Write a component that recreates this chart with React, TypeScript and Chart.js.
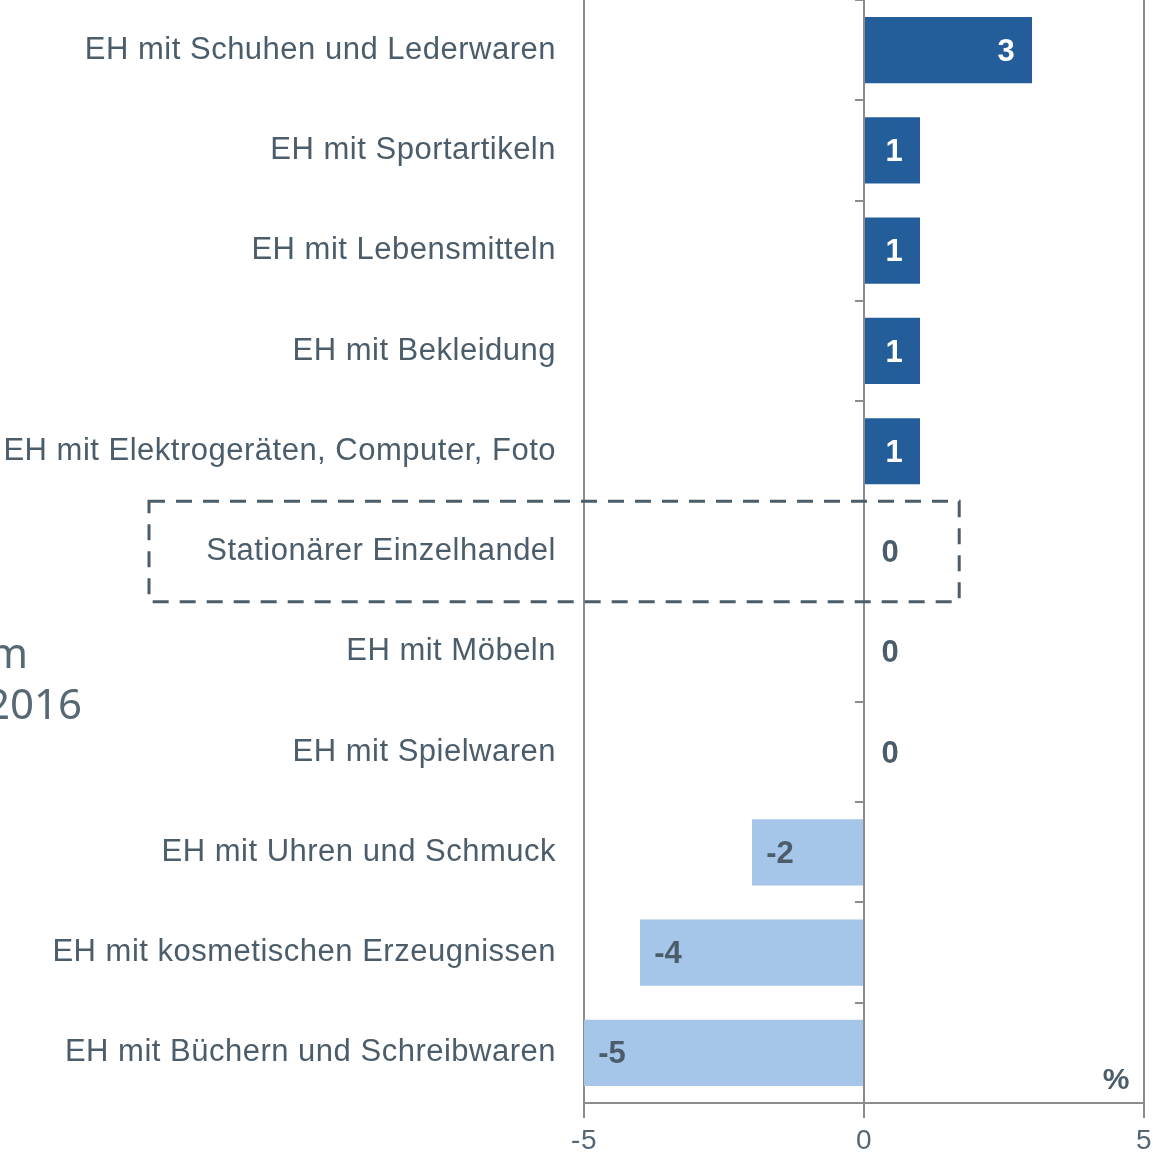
import React, { useEffect, useRef } from "react";
import { Chart, registerables } from "chart.js";

Chart.register(...registerables);

const categories = [
  "EH mit Schuhen und Lederwaren",
  "EH mit Sportartikeln",
  "EH mit Lebensmitteln",
  "EH mit Bekleidung",
  "EH mit Elektrogeräten, Computer, Foto",
  "Stationärer Einzelhandel",
  "EH mit Möbeln",
  "EH mit Spielwaren",
  "EH mit Uhren und Schmuck",
  "EH mit kosmetischen Erzeugnissen",
  "EH mit Büchern und Schreibwaren",
];
const values = [3, 1, 1, 1, 1, 0, 0, 0, -2, -4, -5];
const xTicks = [-5, 0, 5];
const highlightIndex = 5;
const highlightRightValue = 1.7;
const unitLabel = "%";
const titleFragments = ["m", "2016"];

const DARK_BLUE = "#245E9A";
const LIGHT_BLUE = "#A5C5E9";
const TEXT = "#4B5D6A";
const GRAY = "#8C8C8C";
const FONT = "'Liberation Sans', Arial, sans-serif";

export default function App() {
  const ref = useRef<HTMLCanvasElement | null>(null);

  useEffect(() => {
    document.body.style.margin = "0";
    const canvas = ref.current;
    if (!canvas) return;

    const decorations = {
      id: "decorations",
      beforeDraw(chart: any) {
        (chart.ctx as any).letterSpacing = "0.5px";
      },
      beforeDatasetsDraw(chart: any) {
        const { ctx, chartArea, scales } = chart;
        const x0 = scales.x.getPixelForValue(0);
        const n = categories.length;
        const step = (chartArea.bottom - chartArea.top) / n;
        ctx.save();
        ctx.strokeStyle = GRAY;
        ctx.lineWidth = 2;
        for (let i = 0; i <= n; i++) {
          const y = Math.round(chartArea.top + i * step);
          ctx.beginPath();
          ctx.moveTo(x0 - 9, y);
          ctx.lineTo(x0, y);
          ctx.stroke();
        }
        ctx.restore();
      },
      afterDatasetsDraw(chart: any) {
        const { ctx, chartArea, scales } = chart;
        const meta = chart.getDatasetMeta(0);
        ctx.save();
        (ctx as any).letterSpacing = "0px";
        ctx.font = `bold 31px ${FONT}`;
        ctx.textAlign = "center";
        ctx.textBaseline = "middle";
        meta.data.forEach((bar: any, i: number) => {
          const v = values[i];
          let x = bar.x;
          if (v > 0) x = bar.x - 26;
          else if (v < 0) x = bar.x + 28;
          else x = bar.x + 26;
          ctx.fillStyle = v > 0 ? "#FFFFFF" : TEXT;
          ctx.fillText(String(v), x, bar.y + 2);
        });

        // highlight dashed box
        const n = categories.length;
        const step = (chartArea.bottom - chartArea.top) / n;
        const yc = scales.y.getPixelForValue(highlightIndex);
        const y1 = yc - step / 2;
        const y2 = yc + step / 2;
        const xr = scales.x.getPixelForValue(highlightRightValue);
        const xl = chartArea.left - 435;
        ctx.strokeStyle = TEXT;
        ctx.lineWidth = 3;
        ctx.setLineDash([16, 11]);
        ctx.beginPath();
        ctx.moveTo(xl, y1);
        ctx.lineTo(xr, y1);
        ctx.lineTo(xr, y2);
        ctx.lineTo(xl, y2);
        ctx.closePath();
        ctx.stroke();
        ctx.setLineDash([]);

        // unit
        ctx.font = `bold 30px ${FONT}`;
        ctx.fillStyle = TEXT;
        ctx.textAlign = "center";
        ctx.textBaseline = "alphabetic";
        ctx.fillText(unitLabel, chartArea.right - 28, chartArea.bottom - 14);

        // clipped title fragments
        ctx.font = `42px 'Noto Sans', 'Open Sans', sans-serif`;
        ctx.fillStyle = "#566874";
        ctx.textAlign = "right";
        ctx.fillText(titleFragments[0], 28, 668);
        ctx.fillText(titleFragments[1], 82, 719);
        ctx.restore();
      },
    };

    const chart = new Chart(canvas, {
      type: "bar",
      data: {
        labels: categories,
        datasets: [
          {
            data: values,
            backgroundColor: values.map((v) => (v >= 0 ? DARK_BLUE : LIGHT_BLUE)),
            borderWidth: 0,
            barPercentage: 0.66,
            categoryPercentage: 1,
          },
        ],
      },
      options: {
        indexAxis: "y",
        responsive: false,
        animation: false,
        layout: { padding: { top: 0, right: 9, left: 0, bottom: 0 } },
        plugins: { legend: { display: false }, tooltip: { enabled: false } },
        scales: {
          x: {
            min: -5,
            max: 5,
            afterBuildTicks: (scale: any) => {
              scale.ticks = xTicks.map((v) => ({ value: v }));
            },
            afterFit: (scale: any) => {
              scale.height = 52;
              scale.paddingLeft = 0;
              scale.paddingRight = 0;
            },
            grid: {
              display: true,
              drawOnChartArea: true,
              color: GRAY,
              tickColor: GRAY,
              lineWidth: 2,
              tickLength: 15,
            },
            border: { display: true, color: GRAY, width: 2 },
            ticks: {
              color: "#556672",
              font: { family: FONT, size: 28 },
              padding: 6,
              maxRotation: 0,
            },
          },
          y: {
            afterFit: (scale: any) => {
              scale.width = 584;
              scale.paddingTop = 0;
              scale.paddingBottom = 0;
            },
            grid: { display: false, drawTicks: false },
            border: { display: false },
            ticks: {
              color: TEXT,
              font: { family: FONT, size: 31 },
              padding: 28,
            },
          },
        },
      },
      plugins: [decorations],
    } as any);

    return () => chart.destroy();
  }, []);

  return (
    <div style={{ position: "fixed", left: 0, top: 0, width: 1153, height: 1155 }}>
      <canvas ref={ref} width={1153} height={1155} style={{ display: "block" }} />
    </div>
  );
}
